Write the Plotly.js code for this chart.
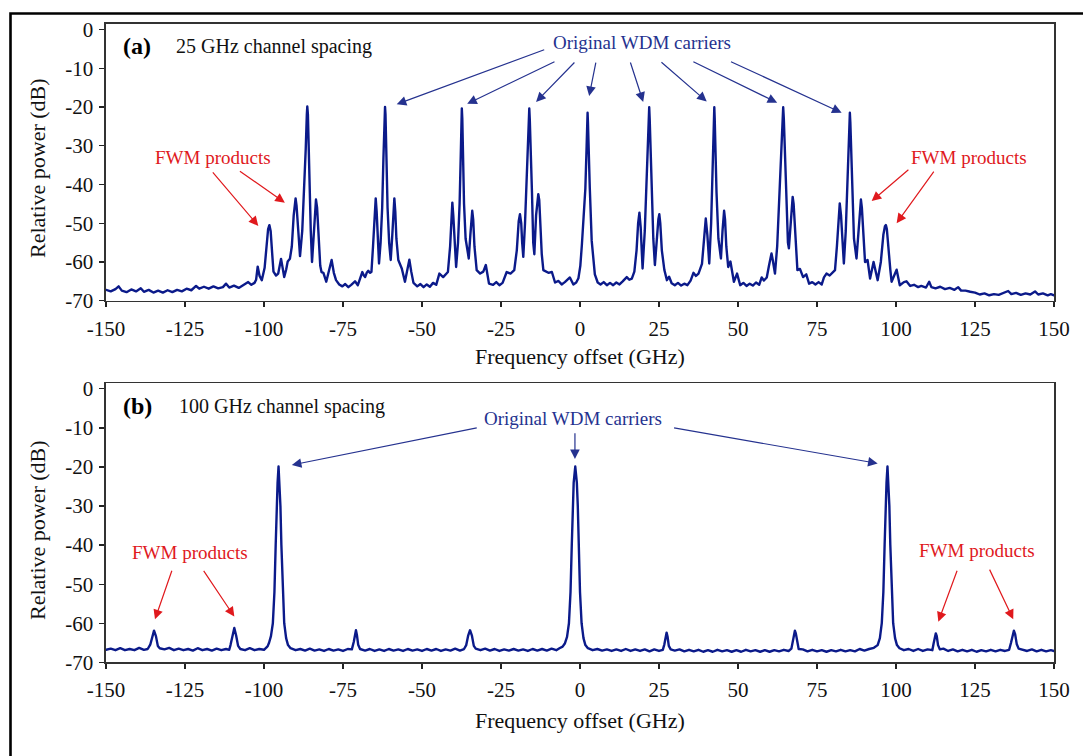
<!DOCTYPE html>
<html>
<head>
<meta charset="utf-8">
<script src="https://cdn.plot.ly/plotly-3.0.1.min.js"></script>
<style>
  html, body { margin: 0; padding: 0; background: #ffffff; }
  #chart { width: 1083px; height: 756px; }
  path.js-line { stroke-linejoin: round !important; stroke-linecap: round !important; }
</style>
</head>
<body>
<div id="chart"></div>
<script>
// Measured optical spectra: [frequency offset (GHz), relative power (dB)]
// (a) 25 GHz channel spacing
const spectrumA = [
  [-150,-67.2],[-148.5,-67.6],[-147,-67.0],[-146,-66.3],[-145,-67.4],[-143.5,-67.8],[-142,-67.1],[-140.5,-67.6],[-139,-66.8],[-138,-67.7],
  [-136.5,-67.2],[-135,-67.9],[-133.5,-67.4],[-132,-67.9],[-130.5,-67.3],[-129,-67.8],[-127.5,-67.2],[-126,-67.6],[-124.5,-66.9],[-123,-67.3],
  [-121.5,-66.2],[-120.5,-66.9],[-119,-66.4],[-117.5,-66.9],[-116,-66.3],[-114.5,-66.8],[-113,-66.5],[-112,-65.6],[-111,-66.6],[-109.5,-66.1],
  [-108,-66.7],[-106.5,-65.9],[-105,-65.2],[-104,-65.9],[-103,-65.4],
  [-102.5,-64.6],[-102.0,-61.2],[-101.4,-63.6],[-100.7,-64.7],[-99.8,-61.5],[-99.2,-56],[-98.7,-51.5],[-98.3,-50.5],[-97.9,-52],[-97.4,-58],
  [-97.0,-62.5],[-96.2,-63.5],[-95.5,-63.0],[-94.6,-59.2],[-94.0,-62.5],[-93.6,-63.9],[-93.0,-62],[-92.5,-59.9],[-91.8,-59.2],[-91.2,-56],
  [-90.6,-48],[-90.3,-45],[-90.0,-43.6],[-89.7,-45.5],[-89.3,-51],[-88.6,-58.5],[-87.9,-52],[-87.3,-42],[-86.8,-31],[-86.45,-22],
  [-86.3,-19.9],[-86.1,-22],[-85.85,-31],[-85.55,-42],[-85.2,-52],[-84.8,-60.0],[-84.3,-53],[-83.9,-46],[-83.55,-43.9],[-83.2,-46],
  [-82.8,-53],[-82.2,-61],[-81.8,-62.6],[-81.2,-62.8],[-80.3,-65.1],[-79.4,-62.5],[-78.6,-59.5],[-77.9,-62.8],[-77.2,-64.7],[-76.2,-65.8],
  [-75.2,-66.3],[-74.3,-65.7],[-73.3,-66.5],[-72.4,-65.9],[-71.2,-65.0],[-70.3,-66.0],
  [-69.4,-63.5],[-68.9,-62.6],[-68.4,-63.5],[-68.0,-63.9],[-67.5,-62.8],[-67.0,-62.3],[-66.5,-62.8],[-66.0,-62.6],[-65.5,-56],[-65.0,-47],
  [-64.65,-43.6],[-64.35,-47],[-64.0,-55],[-63.6,-60.4],[-63.1,-55],[-62.6,-46],[-62.2,-33],[-61.85,-22],[-61.7,-20.0],[-61.55,-22],
  [-61.3,-33],[-60.9,-46],[-60.4,-55],[-59.9,-59.5],[-59.4,-53],[-59.05,-47],[-58.75,-43.6],[-58.45,-47],[-58.1,-54],[-57.5,-59.5],
  [-56.4,-61.7],[-55.4,-65.1],[-54.6,-62],[-54.0,-59.4],[-53.4,-62.5],[-52.7,-65.4],[-51.5,-66.3],[-50.5,-65.7],[-49.5,-66.5],[-48.5,-65.8],
  [-47.5,-66.4],[-46.5,-65.4],[-45.5,-65.9],[-44.5,-63.0],[-43.3,-63.9],[-41.8,-62.6],[-41.1,-56],[-40.7,-48],[-40.4,-44.7],[-40.1,-48],
  [-39.7,-56],[-39.2,-61.3],[-38.6,-55],[-38.1,-45],[-37.75,-33],[-37.55,-23],[-37.4,-20.4],[-37.25,-23],[-37.05,-33],[-36.7,-45],
  [-36.2,-54],[-35.2,-59.1],[-34.7,-53],[-34.4,-49],[-34.1,-46.8],[-33.8,-49],[-33.4,-56],[-32.7,-62.1],[-31.6,-63.0],[-30.6,-62.5],
  [-29.8,-60.8],[-28.8,-65.6],[-27.5,-65.9],[-26.5,-65.2],[-25.5,-66.0],[-24.5,-65.4],[-23.2,-62.6],[-22.0,-63.0],[-20.8,-62.1],[-20.0,-57],
  [-19.4,-49.5],[-19.0,-47.7],[-18.6,-50],[-18.3,-55],[-17.95,-58.7],[-17.4,-50],[-16.9,-40],[-16.4,-30],[-16.2,-23],[-16.05,-20.4],
  [-15.9,-23],[-15.6,-30],[-15.2,-42],[-14.8,-55],[-14.45,-58.0],[-13.9,-48],[-13.5,-43.5],[-13.2,-42.5],[-12.9,-44],[-12.5,-51],
  [-12.1,-58],[-11.6,-62.1],[-10.0,-62.8],[-8.9,-62.6],[-7.9,-65.3],[-6.8,-64.9],[-5.8,-65.8],[-4.8,-65.2],[-3.2,-64.0],[-2.1,-65.8],
  [-1.2,-65.3],[-0.5,-64.2],[0.1,-61],[0.6,-55.5],[1.1,-48],[1.7,-41],[2.1,-30],[2.28,-24],[2.4,-21.5],[2.52,-24],
  [2.7,-30],[3.1,-41],[3.7,-54.5],[4.2,-60],[4.7,-63.2],[5.6,-65.3],[6.5,-65.8],[7.5,-65.2],[8.5,-66.0],[9.5,-65.4],
  [10.5,-66.0],[11.5,-65.3],[12.5,-65.8],[13.5,-65.0],[14.8,-63.9],[15.6,-64.6],[16.4,-64.3],[17.2,-62.5],[17.9,-57],[18.4,-50],
  [18.8,-47.3],[19.2,-51],[19.8,-61.7],[20.5,-52],[21.0,-42],[21.5,-31],[21.75,-23],[21.9,-20.1],[22.05,-23],[22.3,-31],
  [22.7,-42],[23.2,-54],[23.7,-60.8],[24.3,-54],[24.8,-49],[25.1,-47.7],[25.4,-50],[25.9,-57],[26.7,-62.1],[27.5,-64.7],
  [28.2,-63.8],[29.0,-65.5],[30.0,-66.0],[31.0,-65.4],[32.0,-66.1],[33.0,-65.6],[34.0,-66.0],[35.0,-64.8],[35.9,-62.8],[36.7,-63.6],
  [37.5,-63.0],[38.6,-60.5],[39.3,-52],[39.8,-48.8],[40.3,-53],[40.9,-60.4],[41.5,-50],[41.9,-38],[42.2,-30],[42.37,-23],
  [42.5,-20.1],[42.63,-23],[42.8,-30],[43.2,-42],[43.8,-54],[44.6,-59.1],[45.1,-52],[45.4,-48.5],[45.6,-46.8],[45.9,-49],
  [46.3,-56],[46.9,-61.3],[47.6,-59.9],[48.7,-65.1],[49.7,-63.0],[50.7,-66.0],[51.7,-65.4],[52.7,-66.2],[53.7,-65.6],[54.7,-66.1],
  [55.7,-65.3],[56.7,-65.9],[57.5,-64.0],[58.2,-64.8],[59.1,-64.0],[59.8,-61],[60.2,-59],[60.6,-57.8],[61.0,-59.5],[61.7,-63.0],
  [62.4,-56],[63.0,-45],[63.6,-32],[64.1,-23],[64.3,-20.1],[64.5,-23],[64.8,-32],[65.3,-46],[65.8,-55],[66.1,-56.5],
  [66.6,-50],[67.0,-44.5],[67.3,-43.2],[67.6,-45],[68.0,-52],[68.8,-62.1],[69.6,-61.8],[70.6,-63.9],[71.6,-63.2],[72.5,-65.6],
  [73.5,-65.2],[74.5,-65.8],[75.5,-65.2],[76.5,-65.8],[77.2,-64.0],[78.0,-63.0],[79.0,-63.5],[80.0,-62.5],[80.7,-62.1],[81.3,-56],
  [81.8,-48],[82.2,-44.9],[82.6,-48],[83.0,-55],[83.5,-60.4],[84.1,-52],[84.6,-40],[85.0,-30],[85.25,-24],[85.4,-21.5],
  [85.55,-24],[85.8,-30],[86.2,-42],[86.7,-54],[87.5,-59.1],[88.1,-52],[88.6,-45.5],[88.9,-43.9],[89.2,-46],[89.6,-52],
  [90.2,-60],[91.0,-59.5],[91.8,-64.3],[92.9,-60.0],[94.2,-64.7],[95.2,-60],[96.0,-53],[96.5,-50.8],[96.8,-50.5],[97.1,-51.5],
  [97.6,-57],[98.2,-62],[98.6,-65.1],[99.5,-63.5],[100.2,-62.0],[101.2,-66.0],[102.5,-65.2],[103.3,-65.0],[104.5,-66.2],[105.7,-65.9],
  [107,-66.5],[108,-66.2],[109.5,-66.6],[110.5,-65.1],[111.2,-66.5],[112.5,-66.8],[114,-66.4],[115.5,-67.0],[117,-66.7],[118.5,-67.2],
  [119.7,-66.5],[120.6,-67.4],[122,-67.4],[123.5,-67.7],[125,-67.9],[126.5,-68.4],[128,-68.1],[129.5,-68.6],[131,-68.3],[132.5,-68.5],
  [134,-68.1],[135.5,-67.5],[136.5,-68.3],[138,-68.0],[139.5,-68.5],[141,-68.1],[142.5,-68.4],[144,-67.6],[145,-68.4],[146.5,-68.1],
  [148,-68.6],[149,-68.3],[150,-68.6]
];

// (b) 100 GHz channel spacing
const spectrumB = [
  [-150,-66.8],[-148.5,-66.5],[-147,-66.9],[-145.5,-66.4],[-144,-66.9],[-142.5,-66.6],[-141,-66.9],[-139.5,-66.3],[-138,-66.8],[-136.8,-66.6],
  [-136.0,-65.5],[-135.4,-63.3],[-134.8,-61.9],[-134.2,-63.3],[-133.6,-65.8],[-133.0,-66.4],[-131.5,-66.7],[-130,-66.3],[-128.5,-66.9],[-127,-66.5],
  [-125.5,-66.9],[-124,-66.6],[-122.5,-67.0],[-121,-66.4],[-119.5,-66.9],[-118,-66.6],[-116.5,-67.0],[-115,-66.5],[-113.5,-66.9],[-112,-66.6],
  [-111,-66.8],[-110.6,-65.6],[-110.0,-63.2],[-109.4,-61.2],[-108.8,-63.2],[-108.2,-65.8],[-107.5,-66.6],[-106,-66.9],[-104.5,-66.4],[-103,-66.9],
  [-101.5,-66.6],[-100,-66.8],[-99.2,-66.2],[-98.8,-65.8],[-98.4,-65.0],[-97.8,-63.3],[-97.2,-60],[-96.7,-52],[-96.3,-40],[-96.0,-30],
  [-95.7,-24],[-95.4,-19.9],[-95.1,-24],[-94.8,-30],[-94.5,-40],[-94.1,-52],[-93.6,-60],[-93.0,-63.8],[-92.4,-65.6],[-91.6,-66.4],
  [-90,-66.9],[-88.5,-66.6],[-87,-67.0],[-85.5,-66.5],[-84,-67.0],[-82.5,-66.7],[-81,-67.1],[-79.5,-66.6],[-78,-67.0],[-76.5,-66.7],
  [-75,-67.1],[-73.5,-66.6],[-72.2,-66.7],[-71.6,-64.8],[-71.2,-63.0],[-70.9,-61.8],[-70.6,-63.0],[-70.2,-65.5],[-69.6,-66.6],[-68,-67.0],
  [-66.5,-66.6],[-65,-67.1],[-63.5,-66.7],[-62,-67.1],[-60.5,-66.6],[-59,-67.0],[-57.5,-66.7],[-56,-67.1],[-54.5,-66.6],[-53,-67.0],
  [-51.5,-66.7],[-50,-67.1],[-48.5,-66.6],[-47,-67.0],[-45.5,-66.6],[-44,-67.1],[-42.5,-66.7],[-41,-67.0],[-39.5,-66.5],[-38,-67.0],
  [-36.7,-66.6],[-36.0,-65.6],[-35.4,-63.2],[-34.8,-61.8],[-34.2,-63.2],[-33.6,-65.8],[-33,-66.5],[-31.5,-66.9],[-30,-66.5],[-28.5,-67.0],
  [-27,-66.6],[-25.5,-67.1],[-24,-66.7],[-22.5,-67.0],[-21,-66.6],[-19.5,-67.0],[-18,-66.7],[-16.5,-67.1],[-15,-66.6],[-13.5,-67.0],
  [-12,-66.6],[-10.5,-67.0],[-9,-66.5],[-7.5,-66.9],[-6.5,-66.4],[-5.5,-66.0],[-4.8,-65.2],[-4.1,-63.5],[-3.5,-60],[-3.0,-52],
  [-2.6,-40],[-2.3,-30],[-2.0,-24],[-1.5,-19.9],[-1.0,-24],[-0.7,-30],[-0.4,-40],[0.0,-52],[0.5,-60],[1.1,-63.8],
  [1.7,-65.6],[2.5,-66.4],[4,-66.9],[5.5,-66.6],[7,-67.0],[8.5,-66.7],[10,-67.1],[11.5,-66.7],[13,-67.1],[14.5,-66.6],
  [16,-67.1],[17.5,-66.7],[19,-67.1],[20.5,-66.7],[22,-67.2],[23.5,-66.7],[25,-67.1],[26.2,-66.8],[26.7,-65.4],[27.1,-63.2],
  [27.4,-62.4],[27.7,-63.4],[28.1,-65.8],[28.7,-66.7],[30,-67.0],[31.5,-66.7],[33,-67.2],[34.5,-66.8],[36,-67.2],[37.5,-66.8],
  [39,-67.3],[40.5,-66.9],[42,-67.3],[43.5,-66.8],[45,-67.2],[46.5,-66.9],[48,-67.3],[49.5,-66.9],[51,-67.3],[52.5,-66.8],
  [54,-67.2],[55.5,-66.9],[57,-67.3],[58.5,-66.9],[60,-67.3],[61.5,-66.9],[63,-67.2],[64.5,-66.8],[66,-67.1],[66.9,-66.5],
  [67.3,-64.5],[67.7,-62.6],[68.0,-61.9],[68.3,-62.6],[68.7,-65],[69.2,-66.6],[70.5,-66.7],[72,-67.2],[73.5,-66.8],[75,-67.2],
  [76.5,-66.9],[78,-67.3],[79.5,-66.9],[81,-67.2],[82.5,-66.8],[84,-67.2],[85.5,-66.9],[87,-67.2],[88.5,-66.6],[90,-67.0],
  [91.5,-66.6],[93,-66.3],[94.2,-65.6],[94.9,-63.8],[95.5,-60],[96.0,-52],[96.4,-40],[96.7,-30],[97.0,-24],[97.3,-19.9],
  [97.6,-24],[97.9,-30],[98.2,-40],[98.6,-52],[99.1,-60],[99.7,-63.8],[100.3,-65.6],[101.1,-66.4],[102.5,-66.9],[104,-66.6],
  [105.5,-67.1],[107,-66.6],[108.5,-67.1],[110,-66.7],[111.5,-66.9],[111.9,-65.2],[112.3,-63.3],[112.6,-62.6],[112.9,-63.3],[113.3,-65.6],
  [113.9,-66.7],[115,-66.5],[116.5,-67.1],[118,-66.7],[119.5,-67.2],[121,-66.8],[122.5,-67.2],[124,-66.8],[125.5,-67.3],[127,-66.9],
  [128.5,-67.2],[130,-66.8],[131.5,-67.2],[133,-66.8],[134.5,-67.1],[135.8,-66.8],[136.4,-65.0],[136.9,-62.8],[137.3,-61.9],[137.7,-62.8],
  [138.2,-65.3],[138.8,-66.5],[140,-66.7],[141.5,-67.1],[143,-66.7],[144.5,-67.2],[146,-66.8],[147.5,-67.2],[149,-66.9],[150,-67.1]
];

// Axis ticks
const freqTicks = [-150, -125, -100, -75, -50, -25, 0, 25, 50, 75, 100, 125, 150];
const freqTickLabels = ['-150', '-125', '-100', '-75', '-50', '-25', '0', '25', '50', '75', '100', '125', '150'];
const powerTicks = [0, -10, -20, -30, -40, -50, -60, -70];
const powerTickLabels = ['0', '-10', '-20', '-30', '-40', '-50', '-60', '-70'];

// Callout arrows: [tail x, tail y, head x, head y] in axis units
const carrierArrowsA = [
  [-10.85, -5.1, -58.0, -19.3],
  [-7.6, -8.15, -35.7, -19.2],
  [-1.3, -8.15, -13.9, -18.7],
  [5.1, -8.15, 2.9, -17.2],
  [15.8, -8.15, 20.0, -18.7],
  [25.3, -8.15, 40.1, -18.6],
  [35.4, -8.15, 62.4, -18.9],
  [47.3, -8.15, 82.8, -21.5]
];
const fwmArrowsA = [
  [-116.6, -36.5, -101.8, -50.7],
  [-108.1, -36.3, -93.4, -44.7],
  [104.4, -35.9, 92.3, -44.3],
  [112.3, -36.3, 100.2, -50.0]
];
const carrierArrowsB = [
  [-32.2, -9.95, -91.2, -19.5],
  [-1.6, -11.0, -1.6, -18.0],
  [29.3, -9.95, 94.2, -19.1]
];
const fwmArrowsB = [
  [-129.0, -46.2, -134.5, -59.0],
  [-119.4, -46.2, -109.4, -58.3],
  [119.5, -46.2, 113.4, -59.6],
  [129.4, -45.9, 137.1, -59.0]
];

const W = 1083, H = 756;
const SERIF = 'Liberation Serif';
const TRACE = '#0b1a8a';
const BLUE = '#25328f';
const RED = '#e0191d';

function px2paperX(p) { return p / W; }
function px2paperY(p) { return (H - p) / H; }

const traces = [
  { x: spectrumA.map(d => d[0]), y: spectrumA.map(d => d[1]), xaxis: 'x', yaxis: 'y',
    type: 'scatter', mode: 'lines', line: { color: TRACE, width: 2.4 }, hoverinfo: 'skip' },
  { x: spectrumB.map(d => d[0]), y: spectrumB.map(d => d[1]), xaxis: 'x2', yaxis: 'y2',
    type: 'scatter', mode: 'lines', line: { color: TRACE, width: 2.4 }, hoverinfo: 'skip' }
];

function xAxis(anchor) {
  return {
    anchor: anchor, domain: [px2paperX(106), px2paperX(1054)], range: [-150, 150],
    tickmode: 'array', tickvals: freqTicks, ticktext: freqTickLabels,
    ticks: 'outside', ticklen: 5, tickwidth: 1.3, tickcolor: '#222',
    showline: true, linecolor: '#333', linewidth: 1.6, mirror: true,
    showgrid: false, zeroline: false, ticklabelstandoff: 3,
    tickfont: { family: SERIF, size: 21, color: '#111' }, fixedrange: true
  };
}
function yAxis(anchor, top, bottom) {
  return {
    anchor: anchor, domain: [px2paperY(bottom), px2paperY(top)], range: [-70, 1.4],
    tickmode: 'array', tickvals: powerTicks, ticktext: powerTickLabels,
    ticks: 'outside', ticklen: 5, tickwidth: 1.3, tickcolor: '#222',
    showline: true, linecolor: '#333', linewidth: 1.6, mirror: true,
    showgrid: false, zeroline: false, ticklabelstandoff: 2,
    tickfont: { family: SERIF, size: 21, color: '#111' }, fixedrange: true
  };
}

const annotations = [];
function arrow(a, xr, yr, color) {
  annotations.push({
    xref: xr, yref: yr, axref: xr, ayref: yr,
    x: a[2], y: a[3], ax: a[0], ay: a[1], text: '',
    showarrow: true, arrowhead: 2, arrowsize: 1.6, arrowwidth: 1.2, arrowcolor: color, standoff: 0
  });
}
function label(text, xr, yr, x, y, font, xanchor) {
  annotations.push({ xref: xr, yref: yr, x: x, y: y, text: text, showarrow: false,
    xanchor: xanchor || 'center', yanchor: 'middle', font: font });
}

carrierArrowsA.forEach(a => arrow(a, 'x', 'y', BLUE));
fwmArrowsA.forEach(a => arrow(a, 'x', 'y', RED));
carrierArrowsB.forEach(a => arrow(a, 'x2', 'y2', BLUE));
fwmArrowsB.forEach(a => arrow(a, 'x2', 'y2', RED));

// Panel labels and callout texts
label('<b>(a)</b>', 'x', 'y', -145.2, -4.3, { family: SERIF, size: 24, color: '#000' }, 'left');
label('25 GHz channel spacing', 'x', 'y', -128.4, -4.4, { family: SERIF, size: 20, color: '#111' }, 'left');
label('Original WDM carriers', 'x', 'y', 19.5, -3.3, { family: SERIF, size: 19, color: BLUE });
label('FWM products', 'x', 'y', -116.0, -33.0, { family: SERIF, size: 19, color: RED });
label('FWM products', 'x', 'y', 123.2, -33.0, { family: SERIF, size: 19, color: RED });

label('<b>(b)</b>', 'x2', 'y2', -145.2, -4.4, { family: SERIF, size: 24, color: '#000' }, 'left');
label('100 GHz channel spacing', 'x2', 'y2', -127.4, -4.6, { family: SERIF, size: 20, color: '#111' }, 'left');
label('Original WDM carriers', 'x2', 'y2', -2.3, -7.6, { family: SERIF, size: 19, color: BLUE });
label('FWM products', 'x2', 'y2', -123.5, -42.0, { family: SERIF, size: 19, color: RED });
label('FWM products', 'x2', 'y2', 125.5, -41.4, { family: SERIF, size: 19, color: RED });

// Axis titles
const titleFont = { family: SERIF, size: 22, color: '#111' };
annotations.push({ xref: 'paper', yref: 'paper', x: px2paperX(37), y: px2paperY(168), text: 'Relative power (dB)',
  textangle: -90, showarrow: false, xanchor: 'center', yanchor: 'middle', font: titleFont });
annotations.push({ xref: 'paper', yref: 'paper', x: px2paperX(37), y: px2paperY(530), text: 'Relative power (dB)',
  textangle: -90, showarrow: false, xanchor: 'center', yanchor: 'middle', font: titleFont });
annotations.push({ xref: 'paper', yref: 'paper', x: px2paperX(580), y: px2paperY(356), text: 'Frequency offset (GHz)',
  showarrow: false, xanchor: 'center', yanchor: 'middle', font: titleFont });
annotations.push({ xref: 'paper', yref: 'paper', x: px2paperX(580), y: px2paperY(720), text: 'Frequency offset (GHz)',
  showarrow: false, xanchor: 'center', yanchor: 'middle', font: titleFont });

const layout = {
  width: W, height: H, autosize: false,
  margin: { l: 0, r: 0, t: 0, b: 0 },
  paper_bgcolor: '#ffffff', plot_bgcolor: '#ffffff',
  showlegend: false,
  font: { family: SERIF },
  xaxis: xAxis('y'), yaxis: yAxis('x', 24, 300.7),
  xaxis2: xAxis('y2'), yaxis2: yAxis('x2', 383.3, 662.3),
  annotations: annotations,
  shapes: [
    { type: 'rect', xref: 'paper', yref: 'paper', x0: px2paperX(10.5), x1: 1.05, y0: -0.05, y1: px2paperY(13.5),
      line: { color: '#000', width: 2.6 }, fillcolor: 'rgba(0,0,0,0)', layer: 'above' }
  ]
};

Plotly.newPlot('chart', traces, layout, { staticPlot: true, displayModeBar: false });
</script>
</body>
</html>
